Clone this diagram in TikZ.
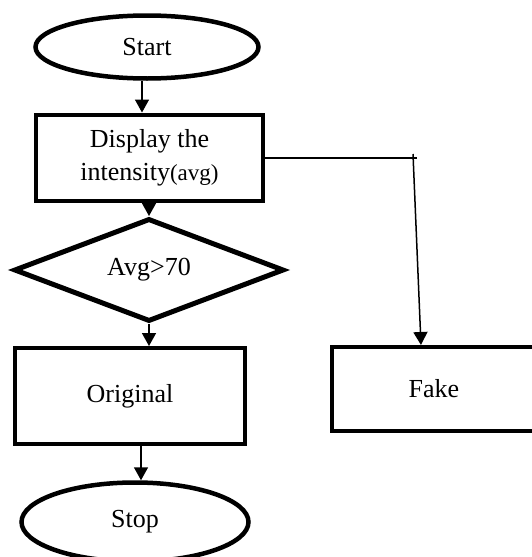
\documentclass[tikz,border=0pt]{standalone}
\usepackage{fontspec}
\setmainfont{Liberation Serif}
\usetikzlibrary{shapes.geometric,arrows.meta,calc}
\begin{document}
\begin{tikzpicture}[x=1pt,y=-1pt,
  base/.style={draw=black,inner sep=0pt,font=\fontsize{26}{33}\selectfont,align=center},
  term/.style={base,ellipse,line width=4.5pt},
  proc/.style={base,rectangle,line width=4pt},
  dec/.style={base,diamond,line width=5pt},
  arr/.style={line width=1.5pt,-{Triangle[length=13pt,width=14pt]}},
  ln/.style={line width=1.5pt}]
\useasboundingbox (0,0) rectangle (532,557);
\node[term,minimum width=223pt,minimum height=63pt] (start) at (147,47) {\raisebox{-4pt}{Start}};
\node[proc,minimum width=227pt,minimum height=86pt] (disp) at (149.5,157.5) {Display the\\intensity{\fontsize{23}{33}\selectfont(avg)}};
\node[dec,minimum width=270pt,minimum height=103pt,aspect=2.6] (dia) at (149,270) {Avg>70};
\node[proc,minimum width=230pt,minimum height=96pt] (orig) at (130,396) {\raisebox{-3pt}{Original}};
\node[proc,minimum width=204pt,minimum height=84pt] (fake) at (434,389) {Fake};
\node[term,minimum width=227pt,minimum height=79pt] (stop) at (135,522) {Stop};
\coordinate (hend) at (417,158);
\coordinate (vtop) at (413,154);
\draw[arr] ($(start.south)+(-5,0)$) -- ($(disp.north)+(-7.5,0)$);
\draw[arr] (disp.south -| dia.north) -- (dia.north);
\draw[ln] (disp.east |- hend) -- (hend);
\draw[arr] (vtop) -- ($(fake.north)+(-13,0)$);
\draw[arr] (dia.south) -- (dia.south |- orig.north);
\draw[arr] ($(orig.south)+(11,0)$) -- ($(stop.north)+(6,0)$);
\end{tikzpicture}
\end{document}
